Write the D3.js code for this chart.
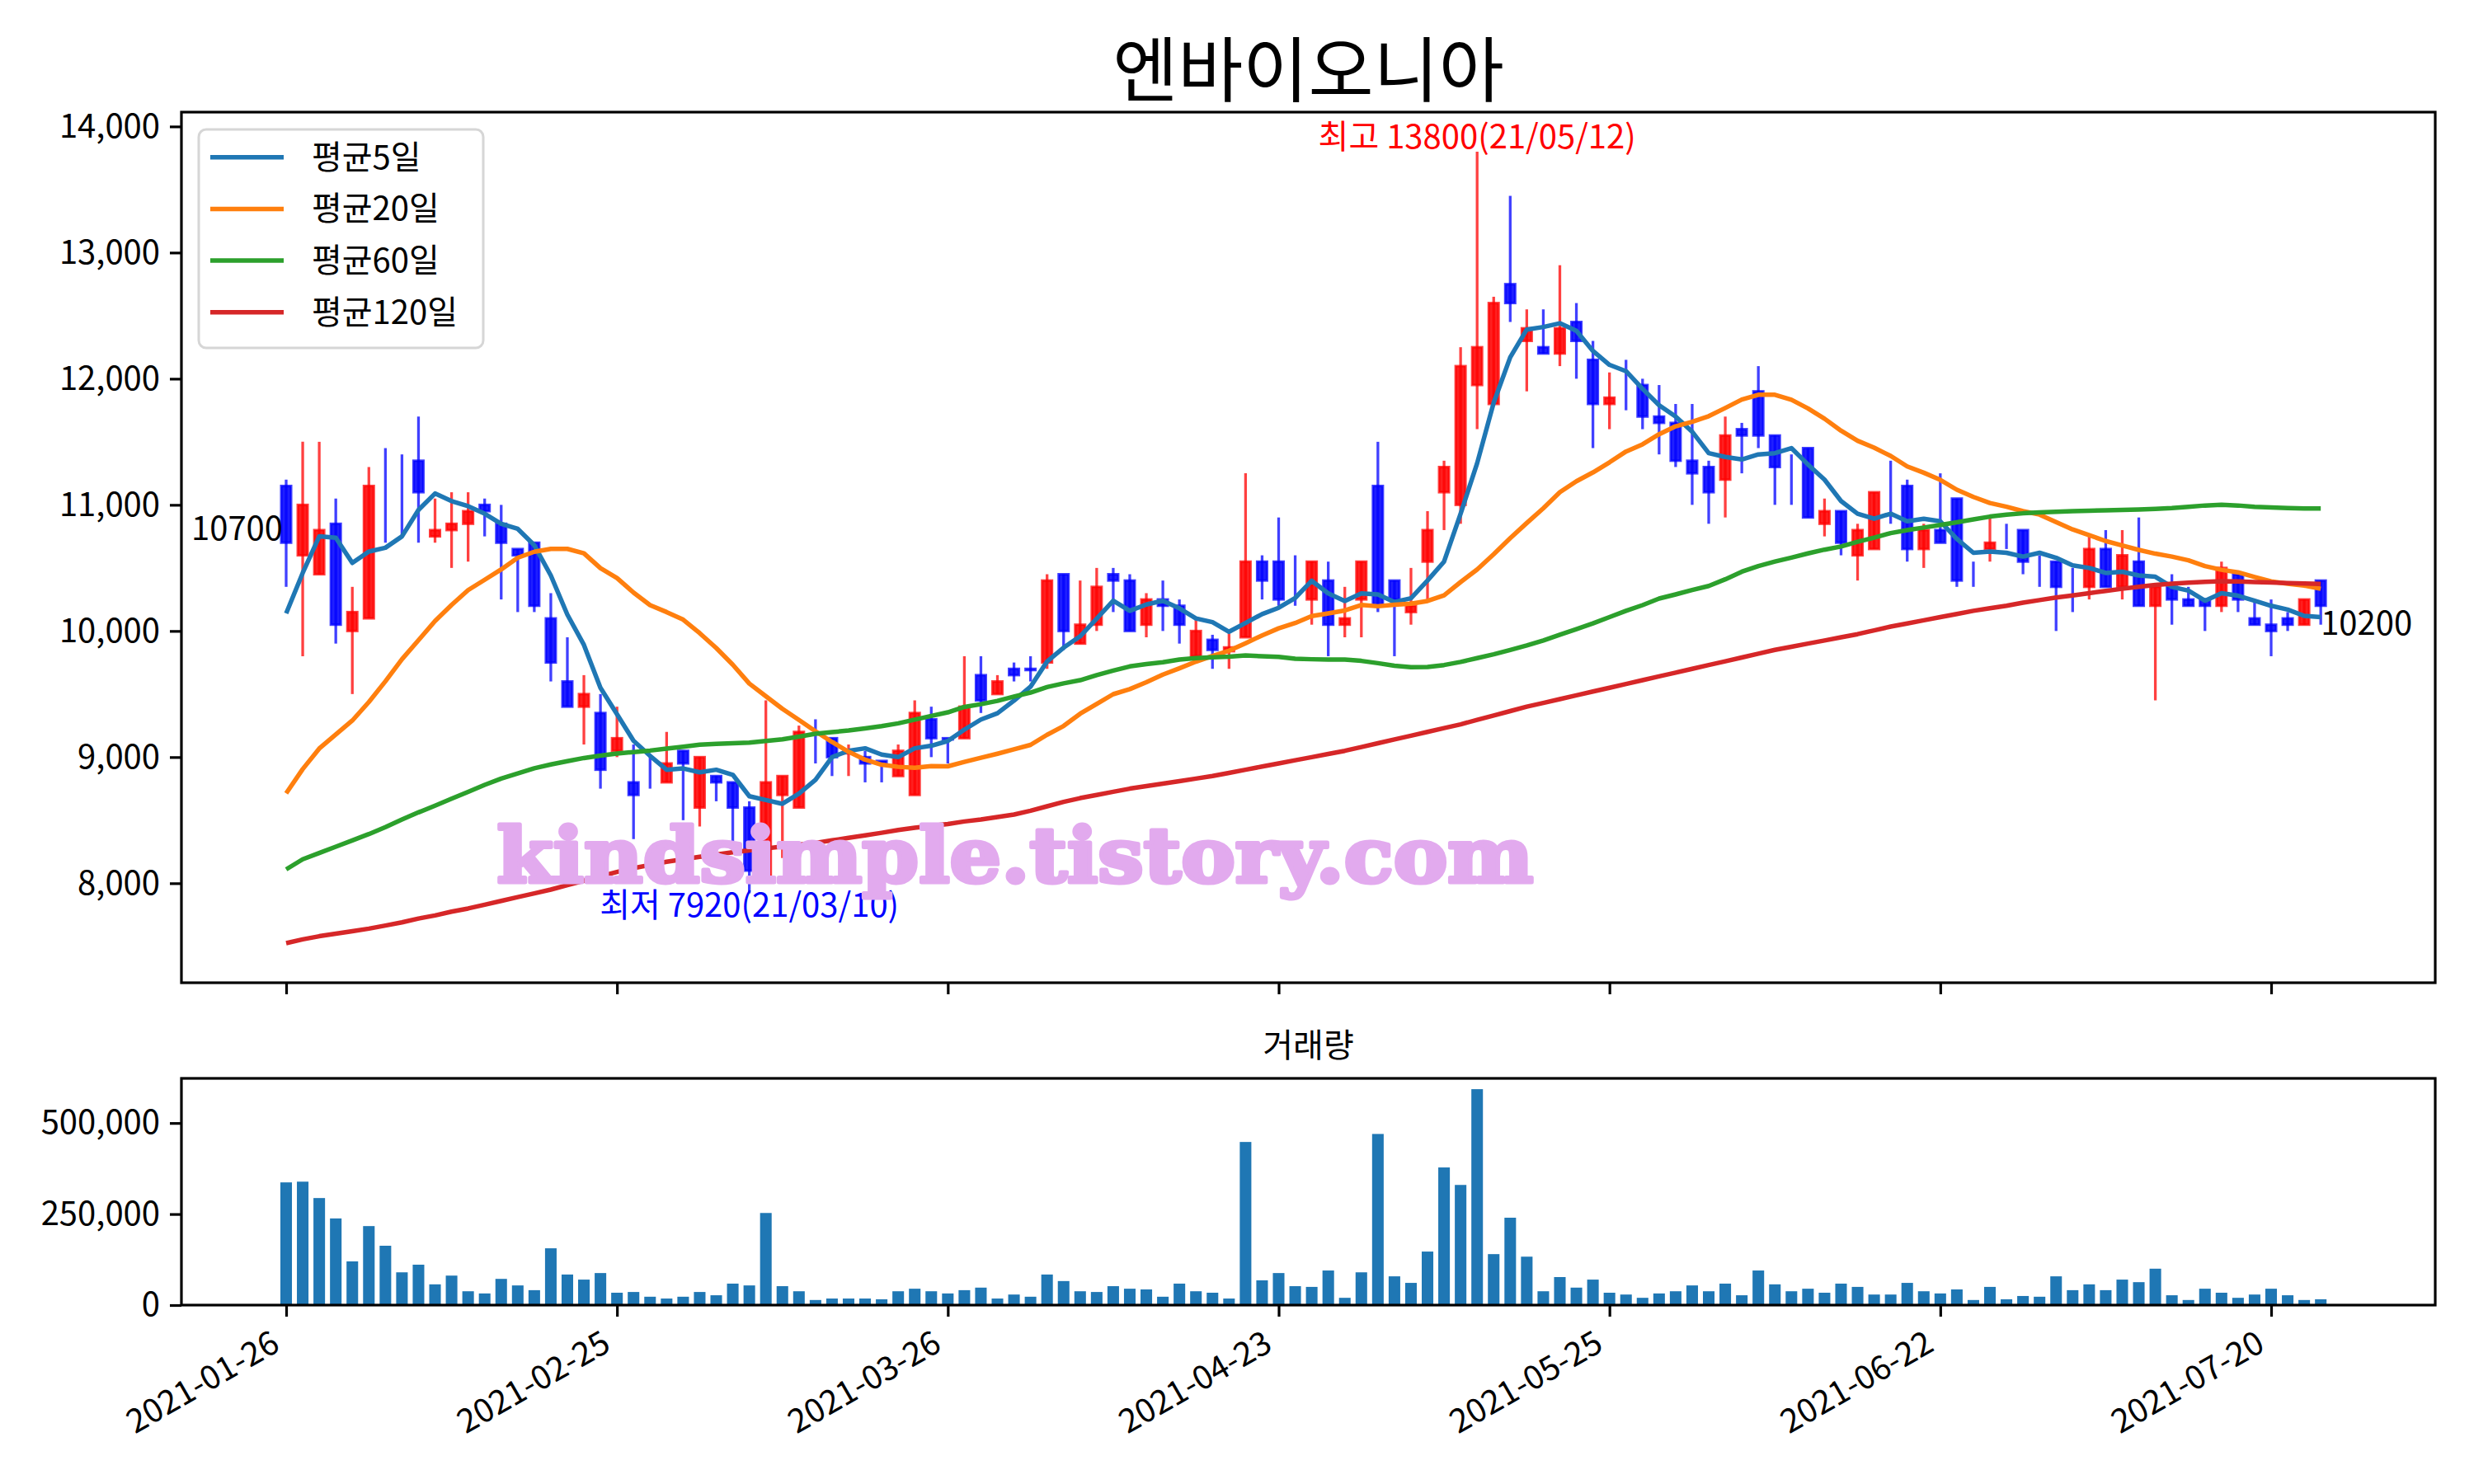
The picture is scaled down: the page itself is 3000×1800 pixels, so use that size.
<!DOCTYPE html>
<html><head><meta charset="utf-8">
<script src="https://cdn.jsdelivr.net/npm/d3@7"></script>
<style>
body{margin:0;background:#fff}
svg{display:block}
text{font-family:"Noto Sans CJK KR","Noto Sans",sans-serif}
</style>
</head><body>
<svg id="c" width="3000" height="1800"></svg>
<script>
const title = "엔바이오니아";
const volumeTitle = "거래량";
const watermark = "kindsimple.tistory.com";
const legendLabels = ["평균5일","평균20일","평균60일","평균120일"];
const lineColors = ["#1f77b4","#ff7f0e","#2ca02c","#d62728"];

const dates = [
"2021-01-26","2021-01-27","2021-01-28","2021-01-29",
"2021-02-01","2021-02-02","2021-02-03","2021-02-04","2021-02-05","2021-02-08","2021-02-09","2021-02-10",
"2021-02-15","2021-02-16","2021-02-17","2021-02-18","2021-02-19","2021-02-22","2021-02-23","2021-02-24","2021-02-25","2021-02-26",
"2021-03-02","2021-03-03","2021-03-04","2021-03-05","2021-03-08","2021-03-09","2021-03-10","2021-03-11","2021-03-12",
"2021-03-15","2021-03-16","2021-03-17","2021-03-18","2021-03-19","2021-03-22","2021-03-23","2021-03-24","2021-03-25","2021-03-26",
"2021-03-29","2021-03-30","2021-03-31","2021-04-01","2021-04-02","2021-04-05","2021-04-06","2021-04-07","2021-04-08","2021-04-09",
"2021-04-12","2021-04-13","2021-04-14","2021-04-15","2021-04-16","2021-04-19","2021-04-20","2021-04-21","2021-04-22","2021-04-23",
"2021-04-26","2021-04-27","2021-04-28","2021-04-29","2021-04-30","2021-05-03","2021-05-04","2021-05-06","2021-05-07",
"2021-05-10","2021-05-11","2021-05-12","2021-05-13","2021-05-14","2021-05-17","2021-05-18","2021-05-20","2021-05-21",
"2021-05-24","2021-05-25","2021-05-26","2021-05-27","2021-05-28","2021-05-31",
"2021-06-01","2021-06-02","2021-06-03","2021-06-04","2021-06-07","2021-06-08","2021-06-09","2021-06-10","2021-06-11",
"2021-06-14","2021-06-15","2021-06-16","2021-06-17","2021-06-18","2021-06-21","2021-06-22","2021-06-23","2021-06-24","2021-06-25",
"2021-06-28","2021-06-29","2021-06-30","2021-07-01","2021-07-02","2021-07-05","2021-07-06","2021-07-07","2021-07-08","2021-07-09",
"2021-07-12","2021-07-13","2021-07-14","2021-07-15","2021-07-16","2021-07-19","2021-07-20","2021-07-21","2021-07-22","2021-07-23"];

const open = [11150,10600,10450,10850,10000,10100,11150,11250,11350,10750,
10800,10850,11000,10850,10650,10700,10100,9600,9400,9350,
9050,8800,8800,8800,9050,8600,8850,8800,8600,8050,
8700,8600,9150,9150,9030,9000,8970,8850,8700,9300,
9150,9150,9650,9500,9700,9700,9750,10450,9900,10050,
10450,10400,10050,10250,10200,9800,9930,9840,9950,10550,
10550,10250,10250,10400,10050,10250,11150,10400,10150,10550,
11100,11000,11950,11800,12750,12300,12250,12200,12450,12150,
11800,11950,11950,11700,11650,11350,11300,11200,11600,11900,
11550,11300,11450,10850,10950,10600,10650,11100,11150,10650,
10800,11050,10550,10650,10750,10800,10550,10550,10400,10350,
10650,10350,10550,10200,10350,10250,10250,10200,10450,10100,
10050,10100,10050,10400];
const high = [11200,11500,11500,11050,10350,11300,11450,11400,11700,11050,
11100,11100,11050,11000,10650,10700,10300,9950,9650,9500,
9400,9100,9000,9200,9050,9000,8850,8800,8650,9450,
8850,9250,9300,9150,9100,9050,8970,9100,9450,9400,
9150,9800,9800,9650,9750,9800,10450,10450,10400,10500,
10500,10450,10300,10400,10250,10100,9970,9980,11250,10600,
10900,10600,10550,10550,10350,10550,11500,10400,10500,10950,
11350,12250,13800,12650,13450,12550,12550,12900,12600,12300,
12050,12150,12000,11950,11800,11800,11350,11700,11650,12100,
11550,11400,11450,11050,10950,10850,11100,11350,11200,10850,
11250,11050,10550,10900,10850,10800,10600,10550,10500,10750,
10800,10800,10900,10350,10450,10350,10250,10550,10450,10250,
10250,10150,10250,10400];
const low = [10350,9800,10450,9900,9500,10100,10700,10750,10700,10700,
10500,10550,10750,10250,10150,10150,9600,9400,9100,8750,
9000,8350,8750,8800,8500,8450,8650,8250,7920,8000,
8200,8600,8950,8850,8850,8800,8800,8850,8700,9000,
8950,9150,9350,9500,9600,9600,9700,9850,9900,10000,
10150,10000,9950,10000,9900,9800,9700,9700,9950,10250,
10200,10200,10050,9800,9950,9950,10150,9800,10050,10250,
10800,10850,11600,11800,12450,11900,12200,12100,12000,11450,
11600,11750,11600,11400,11300,11000,10850,10900,11250,11450,
11000,11000,10900,10750,10600,10400,10650,10850,10550,10500,
10700,10350,10350,10550,10650,10450,10350,10000,10150,10250,
10350,10250,10200,9450,10050,10200,10000,10150,10150,10050,
9800,10000,10050,10050];
const close = [10700,11000,10800,10050,10150,11150,11150,11250,11100,10800,
10850,10950,10950,10700,10600,10200,9750,9400,9500,8900,
9150,8700,8800,8950,8950,9000,8800,8600,8100,8800,
8850,9200,9150,9000,9050,8950,8950,9050,9350,9150,
9140,9400,9450,9600,9650,9690,10400,10000,10050,10350,
10400,10000,10250,10200,10050,10000,9850,9870,10550,10400,
10250,10250,10550,10050,10100,10550,10200,10250,10200,10800,
11300,12100,12250,12600,12600,12400,12200,12400,12300,11800,
11850,11950,11700,11650,11350,11250,11100,11550,11550,11550,
11300,11300,10900,10950,10700,10800,11100,11100,10650,10800,
10700,10400,10550,10700,10750,10550,10550,10350,10400,10650,
10350,10600,10200,10350,10250,10200,10200,10500,10250,10050,
10000,10050,10250,10200];
const volume = [337000,339000,294000,238000,120000,217000,163000,90000,111000,57000,
81000,38000,32000,72000,54000,41000,156000,84000,70000,88000,
34000,36000,23000,18000,23000,36000,27000,59000,54000,253000,
52000,38000,14000,18000,18000,18000,16000,38000,45000,38000,
32000,41000,48000,18000,29000,23000,84000,66000,38000,36000,
52000,45000,43000,23000,59000,38000,34000,18000,448000,68000,
88000,52000,50000,95000,20000,90000,470000,79000,61000,147000,
378000,330000,593000,140000,240000,133000,38000,77000,48000,70000,
34000,29000,20000,32000,38000,54000,38000,59000,27000,95000,
57000,38000,45000,34000,59000,50000,29000,29000,61000,38000,
32000,43000,14000,50000,16000,25000,23000,79000,41000,57000,
41000,70000,63000,100000,27000,14000,45000,34000,20000,29000,
45000,27000,14000,16000];
const ma5 = [10140,10460,10750,10740,10540,10630,10660,10750,10960,11090,
11030,10990,10930,10850,10810,10680,10440,10130,9890,9550,
9340,9130,9010,8900,8910,8880,8900,8860,8690,8660,
8630,8710,8820,9000,9050,9070,9020,9000,9070,9090,
9128,9218,9298,9348,9448,9558,9758,9868,9958,10098,
10240,10160,10210,10240,10180,10100,10070,9994,10064,10134,
10184,10262,10398,10298,10238,10298,10290,10230,10260,10400,
10550,10930,11330,11810,12170,12390,12410,12440,12380,12220,
12110,12060,11920,11790,11700,11580,11410,11380,11360,11400,
11410,11450,11320,11200,11030,10930,10890,10930,10870,10890,
10870,10730,10620,10630,10620,10590,10620,10580,10520,10500,
10460,10470,10440,10430,10350,10320,10240,10300,10280,10240,
10200,10170,10120,10110];
const ma20 = [8713,8905,9068,9180,9290,9437,9601,9776,9927,10079,
10207,10324,10406,10488,10581,10628,10651,10651,10616,10498,
10420,10305,10205,10150,10090,9983,9865,9733,9583,9483,
9383,9295,9205,9120,9043,8980,8940,8923,8915,8928,
8927,8962,8995,9027,9062,9097,9177,9247,9344,9422,
9499,9539,9594,9654,9704,9757,9802,9843,9903,9965,
10021,10063,10118,10140,10163,10206,10196,10208,10216,10238,
10283,10388,10488,10608,10736,10856,10973,11100,11187,11257,
11337,11423,11480,11560,11623,11658,11703,11768,11835,11873,
11873,11833,11765,11683,11588,11508,11453,11388,11305,11255,
11198,11120,11063,11015,10985,10950,10923,10863,10805,10760,
10713,10678,10643,10613,10590,10560,10515,10485,10465,10428,
10393,10375,10360,10335];
const ma60 = [8110,8190,8240,8290,8340,8390,8445,8505,8562,8615,
8670,8725,8780,8830,8870,8912,8942,8968,8993,9012,
9028,9040,9052,9068,9082,9098,9105,9110,9115,9128,
9141,9162,9185,9198,9211,9228,9246,9268,9297,9327,
9355,9398,9420,9446,9480,9512,9555,9585,9610,9650,
9686,9719,9738,9752,9774,9785,9791,9797,9806,9800,
9795,9780,9776,9774,9774,9763,9745,9725,9713,9715,
9730,9755,9785,9815,9850,9885,9925,9970,10015,10060,
10110,10160,10205,10257,10290,10325,10357,10410,10470,10515,
10550,10582,10615,10645,10670,10707,10740,10776,10800,10820,
10841,10862,10885,10907,10922,10933,10940,10946,10950,10953,
10957,10960,10963,10968,10975,10985,10995,11000,10995,10985,
10980,10975,10972,10972];
const ma120 = [7525,7555,7580,7600,7620,7640,7665,7690,7720,7745,
7775,7800,7830,7860,7890,7920,7950,7985,8020,8055,
8090,8120,8145,8170,8190,8210,8228,8245,8260,8276,
8292,8306,8320,8340,8360,8380,8400,8422,8440,8455,
8470,8490,8505,8525,8545,8575,8610,8645,8675,8700,
8725,8750,8770,8790,8810,8830,8850,8875,8900,8925,
8950,8975,9000,9025,9050,9080,9110,9140,9170,9200,
9230,9260,9295,9330,9365,9400,9430,9460,9490,9520,
9550,9580,9610,9640,9670,9700,9730,9760,9790,9820,
9850,9875,9900,9925,9950,9975,10005,10035,10060,10085,
10110,10135,10160,10180,10200,10225,10245,10265,10282,10300,
10318,10335,10350,10365,10375,10383,10390,10394,10393,10388,
10384,10380,10376,10373];
const priceTicks = [8000,9000,10000,11000,12000,13000,14000];
const volumeTicks = [0,250000,500000];
const dateTickIdx = [0,20,40,60,80,100,120];

// ---------- drawing ----------
const svg = d3.select("#c");
const FS = 40;
const main = {l:220, r:2953, t:136, b:1192};
const vol  = {l:220, r:2953, t:1308, b:1583};
const n = close.length;
const x = d3.scaleLinear().domain([0,120]).range([347,2754]);
const mas = [ma5, ma20, ma60, ma120];
const lo = d3.min([d3.min(low), ...mas.map(a=>d3.min(a))]);
const hi = d3.max([d3.max(high), ...mas.map(a=>d3.max(a))]);
const pad = (hi-lo)*0.05;
const y = d3.scaleLinear().domain([lo-pad, hi+pad]).range([main.b, main.t]);
const vy = d3.scaleLinear().domain([0, d3.max(volume)*1.05]).range([vol.b, vol.t]);
const step = x(1)-x(0);
const fmt = d3.format(",");

svg.append("rect").attr("width",3000).attr("height",1800).attr("fill","#fff");

// title
svg.append("text").attr("x",(main.l+main.r)/2).attr("y",117)
  .attr("text-anchor","middle").attr("font-size",86).attr("fill","#000").text(title);

// candles
const cg = svg.append("g");
const idx = d3.range(n);
const colorOf = i => close[i] > open[i] ? "#ff0000" : "#0000ff";
cg.selectAll("line.wick").data(idx).join("line")
  .attr("x1",i=>x(i)).attr("x2",i=>x(i))
  .attr("y1",i=>y(high[i])).attr("y2",i=>y(low[i]))
  .attr("stroke",colorOf).attr("stroke-opacity",0.75).attr("stroke-width",3.3);
const bw = step*0.6;
cg.selectAll("rect.body").data(idx).join("rect")
  .attr("x",i=>x(i)-bw/2).attr("width",bw)
  .attr("y",i=>y(Math.max(open[i],close[i])))
  .attr("height",i=>Math.abs(y(open[i])-y(close[i])))
  .attr("fill",colorOf).attr("fill-opacity",0.88)
  .attr("stroke",colorOf).attr("stroke-opacity",0.75).attr("stroke-width",3);

// moving averages
const line = d3.line().x((d,i)=>x(i)).y(d=>y(d));
mas.forEach((a,k)=>{
  svg.append("path").attr("d",line(a)).attr("fill","none")
    .attr("stroke",lineColors[k]).attr("stroke-width",5.5).attr("stroke-linejoin","round");
});

// annotations
const iMax = d3.maxIndex(high), iMin = d3.minIndex(low);
const shortDate = s => s.slice(2).replace(/-/g,"/");
svg.append("text").attr("x",x(iMax)).attr("y",y(high[iMax])-4).attr("text-anchor","middle")
  .attr("font-size",FS).attr("fill","#ff0000").text(`최고 ${high[iMax]}(${shortDate(dates[iMax])})`);
svg.append("text").attr("x",x(iMin)).attr("y",y(low[iMin])+28).attr("text-anchor","middle")
  .attr("font-size",FS).attr("fill","#0000ff").text(`최저 ${low[iMin]}(${shortDate(dates[iMin])})`);
svg.append("text").attr("x",x(0)-4).attr("y",y(close[0])-3).attr("text-anchor","end")
  .attr("font-size",FS).attr("fill","#000").text(close[0]);
svg.append("text").attr("x",x(n-1)).attr("y",y(close[n-1])+35).attr("text-anchor","start")
  .attr("font-size",FS).attr("fill","#000").text(close[n-1]);

// watermark (heavy serif)
svg.append("text").attr("x",1231).attr("y",1070).attr("text-anchor","middle")
  .style("font-family","'DejaVu Serif','Liberation Serif',serif").style("font-weight","bold")
  .attr("font-size",92)
  .attr("textLength",1257).attr("lengthAdjust","spacingAndGlyphs")
  .attr("fill","#e2aaee").attr("stroke","#e2aaee").attr("stroke-width",5)
  .attr("stroke-linejoin","round").text(watermark);

// legend
const lg = svg.append("g");
lg.append("rect").attr("x",241).attr("y",157).attr("width",345).attr("height",265).attr("rx",9)
  .attr("fill","#fff").attr("fill-opacity",0.8).attr("stroke","#d6d6d6").attr("stroke-width",3);
legendLabels.forEach((t,k)=>{
  const yy = 190.7 + k*62.7;
  lg.append("line").attr("x1",255).attr("x2",344).attr("y1",yy).attr("y2",yy)
    .attr("stroke",lineColors[k]).attr("stroke-width",5.5);
  lg.append("text").attr("x",378).attr("y",yy+14).attr("font-size",FS).attr("fill","#000").text(t);
});

// axes styling helper
function styleAxis(g){
  g.select(".domain").remove();
  g.selectAll(".tick line").attr("stroke","#000").attr("stroke-width",3.2);
  g.selectAll(".tick text").attr("font-size",FS).attr("fill","#000");
}
// main y axis
svg.append("g").attr("transform",`translate(${main.l},0)`)
  .call(d3.axisLeft(y).tickValues(priceTicks).tickFormat(fmt).tickSize(14).tickPadding(12))
  .call(styleAxis);
// main x axis (ticks only)
svg.append("g").attr("transform",`translate(0,${main.b})`)
  .call(d3.axisBottom(x).tickValues(dateTickIdx).tickFormat("").tickSize(14))
  .call(styleAxis);
// volume bars
svg.append("g").selectAll("rect").data(idx).join("rect")
  .attr("x",i=>x(i)-step*0.35).attr("width",step*0.7)
  .attr("y",i=>vy(volume[i])).attr("height",i=>vol.b-vy(volume[i]))
  .attr("fill","#1f77b4");
svg.append("g").attr("transform",`translate(${vol.l},0)`)
  .call(d3.axisLeft(vy).tickValues(volumeTicks).tickFormat(fmt).tickSize(14).tickPadding(12))
  .call(styleAxis);
const xa = svg.append("g").attr("transform",`translate(0,${vol.b})`)
  .call(d3.axisBottom(x).tickValues(dateTickIdx).tickFormat(i=>dates[i]).tickSize(14))
  .call(styleAxis);
xa.selectAll(".tick text").attr("y",null).attr("dy",null).attr("x",null)
  .attr("text-anchor","end").attr("transform","translate(-6,54) rotate(-30)");

// volume title
svg.append("text").attr("x",(vol.l+vol.r)/2).attr("y",1282).attr("text-anchor","middle")
  .attr("font-size",FS).attr("fill","#000").text(volumeTitle);

// frames
[main, vol].forEach(a=>{
  svg.append("rect").attr("x",a.l).attr("y",a.t).attr("width",a.r-a.l).attr("height",a.b-a.t)
    .attr("fill","none").attr("stroke","#000").attr("stroke-width",3.2);
});
</script>
</body></html>
